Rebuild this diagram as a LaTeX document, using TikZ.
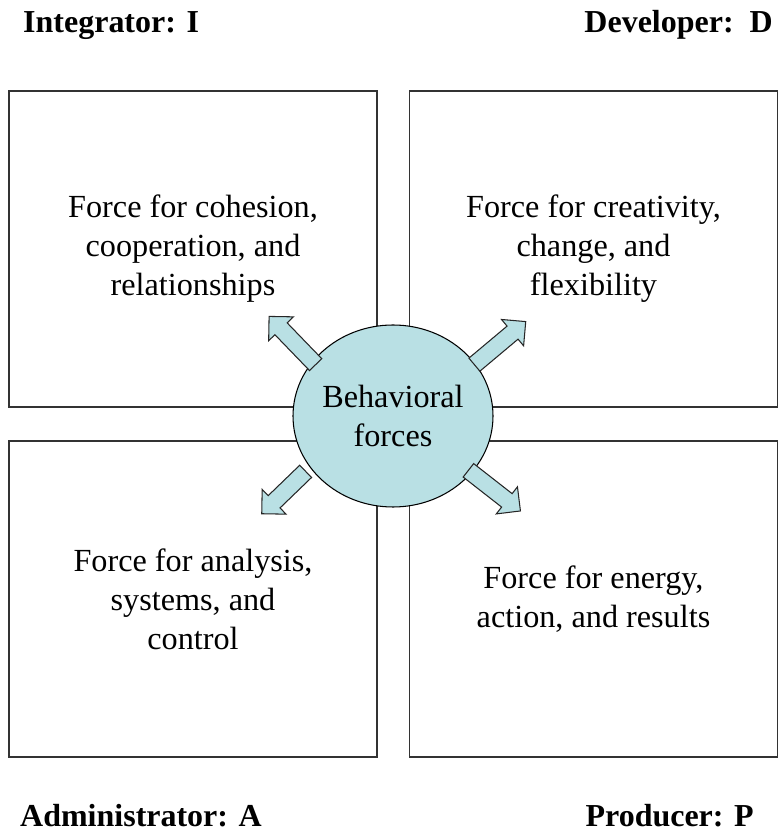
\documentclass[tikz,border=0pt]{standalone}
\usepackage{fontspec}
\setmainfont{Liberation Serif}
\usepackage{tikz}
\usetikzlibrary{shapes.geometric,shapes.arrows,positioning}

\definecolor{forceblue}{RGB}{185,224,228}

\begin{document}
\begin{tikzpicture}[
    quadrant/.style={draw=black!80,line width=1.2pt,minimum width=11.04cm,minimum height=9.48cm,
      align=center,font=\fontsize{27.5}{33.3}\selectfont},
    role/.style={font=\fontsize{27.3}{33}\selectfont\bfseries,inner sep=0pt},
    pusharrow/.style={single arrow,draw=black!85,fill=forceblue,line width=0.9pt,
      inner sep=0pt,inner ysep=0.24cm,single arrow head extend=0.26cm,
      single arrow tip angle=90,anchor=tail}]
    \useasboundingbox (0,0) rectangle (23.37,25.17);

    \node[quadrant] (boxI) at (5.79,17.70) {Force for cohesion,\\cooperation, and\\relationships};
    \node[quadrant] (boxD) at (17.805,17.70) {Force for creativity,\\change, and\\flexibility};
    \node[quadrant] (boxA) at (5.79,7.20) {Force for analysis,\\systems, and\\control};
    \node[quadrant] (boxP) at (17.805,7.20) {Force for energy,\\action, and results};

    \node[role,anchor=base west] (roleI) at (0.69,24.18) {Integrator: I};
    \node[role,anchor=base east] (roleD) at (23.19,24.18) {Developer:~~D};
    \node[role,anchor=base west] (roleA) at (0.60,0.39) {Administrator: A};
    \node[role,anchor=base east] (roleP) at (22.62,0.39) {Producer: P};

    \node[ellipse,draw,fill=forceblue,line width=0.9pt,inner sep=0pt,minimum width=6cm,minimum height=5.46cm,
      align=center,font=\fontsize{27.5}{33.3}\selectfont] (core) at (11.79,12.69) {Behavioral\\forces};

    \node[pusharrow,minimum height=2.01cm,rotate=134] (toI) at (9.48,14.22) {};
    \node[pusharrow,minimum height=2.01cm,rotate=40] (toD) at (14.22,14.22) {};
    \node[pusharrow,minimum height=1.83cm,rotate=224] (toA) at (9.18,11.04) {};
    \node[pusharrow,minimum height=1.98cm,rotate=-38] (toP) at (14.04,11.07) {};
\end{tikzpicture}
\end{document}
